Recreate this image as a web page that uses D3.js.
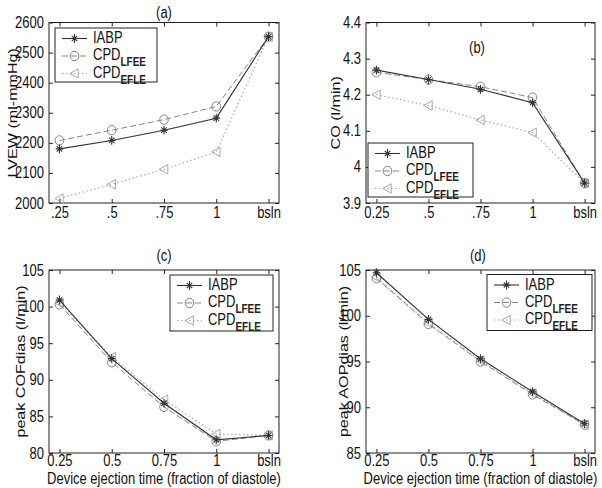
<!DOCTYPE html>
<html><head><meta charset="utf-8">
<script src="https://cdnjs.cloudflare.com/ajax/libs/d3/7.8.5/d3.min.js"></script>
<style>
body{margin:0;background:#fff;}
svg{display:block;font-family:"Liberation Sans",Arial,sans-serif;}
</style></head>
<body><svg id="c" width="602" height="488"></svg>
<script>
// ---- data ----
const xPos = [0.25, 0.5, 0.75, 1, 1.25];
const seriesNames = ["IABP", "CPD_LFEE", "CPD_EFLE"];

const lvewIABP = [2180, 2208, 2242, 2282, 2553];
const lvewLFEE = [2208, 2242, 2277, 2321, 2553];
const lvewEFLE = [2015, 2062, 2112, 2170, 2553];

const coIABP = [4.268, 4.242, 4.215, 4.178, 3.955];
const coLFEE = [4.262, 4.242, 4.222, 4.192, 3.955];
const coEFLE = [4.200, 4.170, 4.130, 4.095, 3.955];

const cofIABP = [100.9, 92.9, 86.8, 81.8, 82.4];
const cofLFEE = [100.3, 92.4, 86.3, 81.6, 82.4];
const cofEFLE = [100.5, 93.1, 87.3, 82.6, 82.4];

const aopIABP = [104.7, 99.6, 95.3, 91.7, 88.2];
const aopLFEE = [104.1, 99.1, 95.0, 91.4, 88.1];
const aopEFLE = [104.2, 99.2, 95.1, 91.5, 88.1];

const xTickA = [".25", ".5", ".75", "1", "bsln"];
const xTickB = ["0.25", ".5", ".75", "1", "bsln"];
const xTickCD = ["0.25", "0.5", "0.75", "1", "bsln"];

const yTicksA = [2000, 2100, 2200, 2300, 2400, 2500, 2600];
const yTicksB = [3.9, 4.0, 4.1, 4.2, 4.3, 4.4];
const yTicksC = [80, 85, 90, 95, 100, 105];
const yTicksD = [85, 90, 95, 100, 105];
const yTickLabelsB = ["3.9", "4", "4.1", "4.2", "4.3", "4.4"];

const xLabel = "Device ejection time (fraction of diastole)";

// ---- layout / style ----
const svg = d3.select("#c");
const styles = [
  {color:"#333333", dash:null, marker:"star", width:1.1},
  {color:"#858585", dash:"6,3", marker:"circle", width:1},
  {color:"#aaaaaa", dash:"1.5,2.5", marker:"tri", width:1.2}
];
const FS = 13;
const STRETCH = 1.2;

function marker(g, type, x, y, color) {
  if (type === "star") {
    const r = 3.8, d = r * 0.72;
    g.append("path").attr("d",
      `M${x-r},${y}L${x+r},${y}M${x},${y-r-0.6}L${x},${y+r+0.6}M${x-d},${y-d}L${x+d},${y+d}M${x-d},${y+d}L${x+d},${y-d}`)
      .attr("stroke", color).attr("stroke-width", 1.1).attr("fill", "none");
  } else if (type === "circle") {
    g.append("ellipse").attr("cx", x).attr("cy", y).attr("rx", 4.3).attr("ry", 4.7)
      .attr("stroke", color).attr("fill", "none").attr("stroke-width", 1);
  } else {
    const s = 4.7;
    g.append("path").attr("d", `M${x-s},${y}L${x+s*0.8},${y-s}L${x+s*0.8},${y+s}Z`)
      .attr("stroke", color).attr("fill", "none").attr("stroke-width", 1);
  }
}

function panel(o) {
  const g = svg.append("g");
  const x = d3.scaleLinear().domain([0.2, 1.3]).range([o.l, o.r]);
  const y = d3.scaleLinear().domain(o.yDom).range([o.b, o.t]);
  g.append("rect").attr("x", o.l).attr("y", o.t).attr("width", o.r - o.l).attr("height", o.b - o.t)
    .attr("fill", "none").attr("stroke", "#222").attr("stroke-width", 1);
  const tk = 4;
  const ax = g.append("g").attr("transform", `translate(0,${o.b})`)
    .call(d3.axisBottom(x).tickValues(xPos).tickSize(-tk).tickPadding(6)
      .tickFormat((d, i) => o.xTicks[i]));
  const axT = g.append("g").attr("transform", `translate(0,${o.t})`)
    .call(d3.axisTop(x).tickValues(xPos).tickSize(-tk).tickFormat(""));
  const ay = g.append("g").attr("transform", `translate(${o.l},0)`)
    .call(d3.axisLeft(y).tickValues(o.yTicks).tickSize(-tk).tickPadding(5)
      .tickFormat((d, i) => o.yTickLabels ? o.yTickLabels[i] : d3.format("d")(d)));
  const ayR = g.append("g").attr("transform", `translate(${o.r},0)`)
    .call(d3.axisRight(y).tickValues(o.yTicks).tickSize(-tk).tickFormat(""));
  [ax, axT, ay, ayR].forEach(a => {
    a.select(".domain").remove();
    a.selectAll(".tick line").attr("stroke", "#222");
    a.selectAll("text").attr("font-size", FS).attr("fill", "#111")
      .attr("font-family", '"Liberation Sans",Arial,sans-serif');
  });
  ax.selectAll("text").attr("y", o.xTickY).attr("dy", 0);
  for (let s = 2; s >= 0; s--) {
    const st = styles[s];
    const vals = o.series[s];
    const line = d3.line().x((d, i) => x(xPos[i])).y(d => y(d));
    g.append("path").datum(vals).attr("d", line).attr("fill", "none")
      .attr("stroke", st.color).attr("stroke-width", st.width)
      .attr("stroke-dasharray", st.dash);
    vals.forEach((v, i) => marker(g, st.marker, x(xPos[i]), y(v), st.color));
  }
  g.append("text").attr("class", "hz").attr("x", o.titleX).attr("y", o.titleY).attr("text-anchor", "middle")
    .attr("font-size", FS).attr("fill", "#111").text(o.title);
  g.append("text").attr("transform", `translate(${o.ylx},${(o.t + o.b) / 2}) rotate(-90) scale(1.24,1)`)
    .attr("text-anchor", "middle").attr("dy", "0.35em").attr("font-size", FS).attr("fill", "#111")
    .text(o.yLabel);
  if (o.xLabel) {
    g.append("text").attr("class", "hz").attr("x", (o.l + o.r) / 2).attr("y", o.xly).attr("text-anchor", "middle")
      .attr("font-size", FS).attr("fill", "#111").text(o.xLabel);
  }
  const L = o.leg;
  const lg = g.append("g");
  lg.append("rect").attr("x", L.x).attr("y", L.y).attr("width", L.w).attr("height", L.h)
    .attr("fill", "#fff").attr("stroke", "#222").attr("stroke-width", 1);
  const rows = [L.y + 10.5, L.y + 28, L.y + 45.5];
  seriesNames.forEach((name, s) => {
    const st = styles[s];
    const ry = rows[s];
    lg.append("line").attr("x1", L.x + 7).attr("x2", L.x + 32).attr("y1", ry).attr("y2", ry)
      .attr("stroke", st.color).attr("stroke-width", st.width).attr("stroke-dasharray", st.dash);
    marker(lg, st.marker, L.x + 19.5, ry, st.color);
    const parts = name.split("_");
    const t = lg.append("text").attr("class", "hz").attr("x", L.x + 38).attr("y", ry).attr("dy", "0.3em")
      .attr("font-size", FS).attr("fill", "#111");
    t.append("tspan").text(parts[0]);
    if (parts[1]) {
      t.append("tspan").attr("font-size", 10).attr("dy", "0.5em").attr("font-weight", "bold")
        .attr("fill", "#222").text(parts[1]);
    }
  });
  ax.selectAll("text").attr("class", "hz");
  ay.selectAll("text").attr("class", "hz");
}

panel({l:49, r:279, t:22.5, b:203, yDom:[2000,2600], yTicks:yTicksA, xTicks:xTickA, xTickY:14,
  series:[lvewIABP, lvewLFEE, lvewEFLE], title:"(a)", titleX:164, titleY:17,
  yLabel:"LVEW (ml-mmHg)", ylx:12, leg:{x:55, y:28, w:102, h:54}});

panel({l:366, r:595, t:22.5, b:203, yDom:[3.9,4.4], yTicks:yTicksB, yTickLabels:yTickLabelsB, xTicks:xTickB, xTickY:14,
  series:[coIABP, coLFEE, coEFLE], title:"(b)", titleX:477, titleY:52,
  yLabel:"CO (l/min)", ylx:335, leg:{x:368, y:143, w:105, h:54}});

panel({l:49, r:279, t:270, b:453, yDom:[80,105], yTicks:yTicksC, xTicks:xTickCD, xTickY:12.1,
  series:[cofIABP, cofLFEE, cofEFLE], title:"(c)", titleX:164, titleY:260,
  yLabel:"peak COFdias (l/min)", ylx:20, xLabel:xLabel, xly:483.3, leg:{x:170, y:275, w:103, h:56}});

panel({l:366, r:595, t:270, b:453, yDom:[85,105], yTicks:yTicksD, xTicks:xTickCD, xTickY:12.1,
  series:[aopIABP, aopLFEE, aopEFLE], title:"(d)", titleX:478, titleY:260,
  yLabel:"peak AOPdias (l/min)", ylx:343, xLabel:xLabel, xly:483.3, leg:{x:487, y:274.5, w:105, h:56}});

// vertical stretch of horizontal text (the reference lettering is taller than wide)
svg.selectAll("text.hz").each(function () {
  const bb = this.getBBox();
  const cy = bb.y + bb.height / 2;
  const prev = this.getAttribute("transform") || "";
  this.setAttribute("transform", `${prev} translate(0,${cy}) scale(1,${STRETCH}) translate(0,${-cy})`);
});
</script></body></html>
